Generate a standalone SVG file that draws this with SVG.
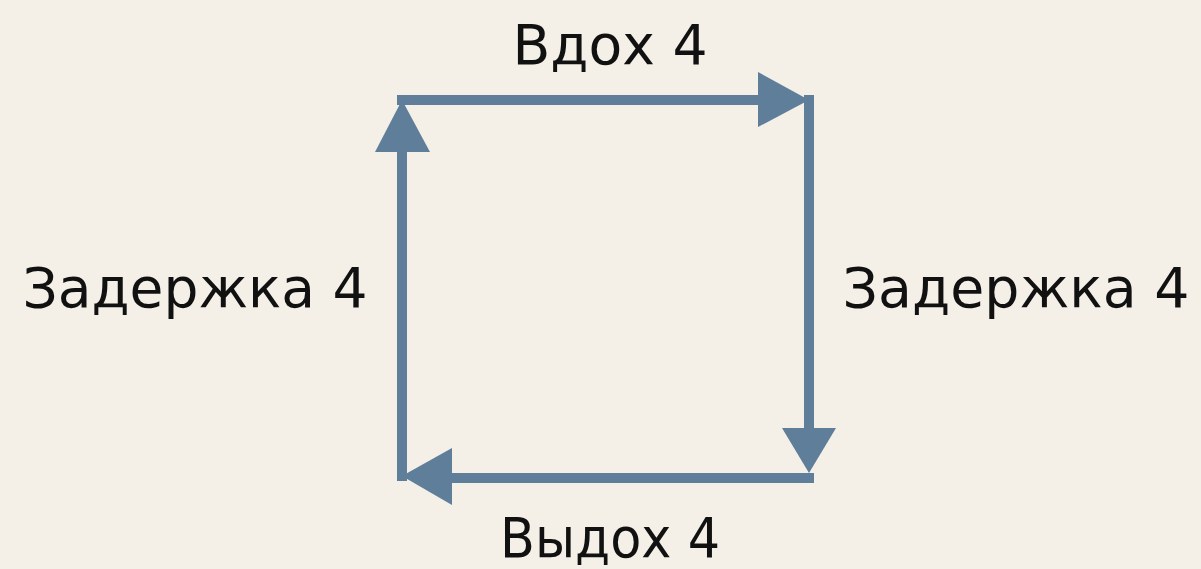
<svg xmlns="http://www.w3.org/2000/svg" width="1201" height="569" viewBox="0 0 1201 569">
  <style>
    .lbl { font-family: "DejaVu Sans", "Noto Sans", sans-serif; font-size: 56px; fill: #111111; text-anchor: middle; }
    .ln { stroke: #5f7e99; stroke-width: 10; fill: none; stroke-linecap: square; }
    .hd { fill: #5f7e99; }
  </style>
  <rect width="1201" height="569" fill="#f4f0e8"/>
  <g id="connectors">
    <line class="ln" x1="402" y1="100" x2="765" y2="100"/>
    <polygon class="hd" points="758,72 809,100 758,127"/>
    <line class="ln" x1="809" y1="100" x2="809" y2="432"/>
    <polygon class="hd" points="782,428 836,428 809,473"/>
    <line class="ln" x1="809" y1="478" x2="447" y2="478"/>
    <polygon class="hd" points="452,448 402,476 452,505"/>
    <line class="ln" x1="402" y1="476" x2="402" y2="145"/>
    <polygon class="hd" points="375,152 402,100 430,152"/>
  </g>
  <g id="top-label"><text class="lbl" x="610" y="64" textLength="195" lengthAdjust="spacingAndGlyphs">Вдох 4</text></g>
  <g id="right-label"><text class="lbl" x="1016" y="307" textLength="347" lengthAdjust="spacingAndGlyphs">Задержка 4</text></g>
  <g id="bottom-label"><text class="lbl" x="610" y="557" textLength="220" lengthAdjust="spacingAndGlyphs">Выдох 4</text></g>
  <g id="left-label"><text class="lbl" x="195" y="307" textLength="345" lengthAdjust="spacingAndGlyphs">Задержка 4</text></g>
</svg>
